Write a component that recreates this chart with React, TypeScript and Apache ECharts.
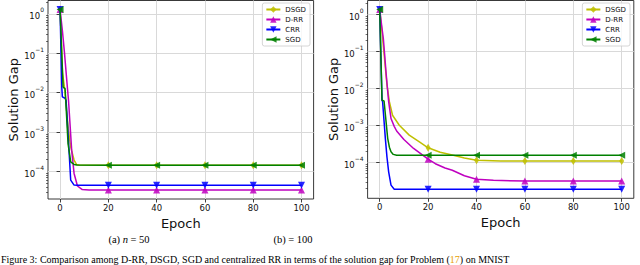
import React, { useEffect, useRef } from 'react';
import * as echarts from 'echarts';

// ---------- data ----------
const SERIES_NAMES = ['DSGD', 'D-RR', 'CRR', 'SGD'];
const X_TICKS = [0, 20, 40, 60, 80, 100];
const X_RANGE = [-5, 105];
const Y_MAJOR_TICKS = [1e-4, 1e-3, 1e-2, 1e-1, 1];
const Y_RANGE_A = [2.0e-5, 2.18];
const Y_RANGE_B = [1.08e-5, 2.39];
const Y_MINOR_A = [3e-5, 4e-5, 5e-5, 6e-5, 7e-5, 8e-5, 9e-5, 2e-4, 3e-4, 4e-4, 5e-4, 6e-4, 7e-4, 8e-4, 9e-4, 2e-3, 3e-3, 4e-3, 5e-3, 6e-3, 7e-3, 8e-3, 9e-3, 2e-2, 3e-2, 4e-2, 5e-2, 6e-2, 7e-2, 8e-2, 9e-2, 0.2, 0.3, 0.4, 0.5, 0.6, 0.7, 0.8, 0.9, 2];
const Y_MINOR_B = [2e-5, 3e-5, 4e-5, 5e-5, 6e-5, 7e-5, 8e-5, 9e-5, 2e-4, 3e-4, 4e-4, 5e-4, 6e-4, 7e-4, 8e-4, 9e-4, 2e-3, 3e-3, 4e-3, 5e-3, 6e-3, 7e-3, 8e-3, 9e-3, 2e-2, 3e-2, 4e-2, 5e-2, 6e-2, 7e-2, 8e-2, 9e-2, 0.2, 0.3, 0.4, 0.5, 0.6, 0.7, 0.8, 0.9, 2];

// (a) n = 50 : [epoch, solution gap]
const DSGD_A = [[0, 1.29], [1, 3.2e-2], [2, 1.12e-2], [2.5, 5.0e-3], [3, 2.2e-3], [3.5, 1.1e-3], [4, 6.3e-4], [4.4, 4.2e-4], [5.8, 1.95e-4], [6.8, 1.51e-4], [8, 1.45e-4], [20, 1.44e-4], [40, 1.44e-4], [60, 1.44e-4], [80, 1.44e-4], [100, 1.44e-4]];
const DRR_A = [[0, 1.29], [1, 0.355], [1.8, 0.107], [3, 1.41e-2], [3.5, 6.3e-3], [4.8, 3.47e-4], [5.8, 8.9e-5], [7.2, 4.27e-5], [9.2, 3.47e-5], [12, 3.4e-5], [20, 3.4e-5], [40, 3.4e-5], [60, 3.4e-5], [80, 3.4e-5], [100, 3.4e-5]];
const CRR_A = [[0, 1.29], [0.7, 1.38e-2], [0.95, 7.8e-3], [2.07, 7.2e-3], [2.5, 6.3e-3], [3.7, 3.47e-4], [4.4, 6.0e-5], [5.8, 4.5e-5], [7, 4.47e-5], [20, 4.47e-5], [40, 4.47e-5], [60, 4.47e-5], [80, 4.47e-5], [100, 4.47e-5]];
const SGD_A = [[0, 1.29], [1.25, 1.38e-2], [2.07, 1.26e-2], [2.35, 6.3e-3], [3.3, 5.1e-4], [4.4, 1.74e-4], [5.8, 1.51e-4], [7, 1.45e-4], [20, 1.44e-4], [40, 1.44e-4], [60, 1.44e-4], [80, 1.44e-4], [100, 1.44e-4]];

// (b) = 100
const DSGD_B = [[0, 1.365], [1, 0.32], [2, 6.3e-2], [3, 1.26e-2], [4, 4.4e-3], [5.3, 1.9e-3], [8.1, 1.02e-3], [12.2, 5.5e-4], [16.4, 3.6e-4], [20, 2.5e-4], [25, 1.9e-4], [30.4, 1.58e-4], [35, 1.32e-4], [40, 1.15e-4], [50, 1.1e-4], [60, 1.1e-4], [80, 1.1e-4], [100, 1.1e-4]];
const DRR_B = [[0, 1.365], [1, 0.4], [1.5, 0.224], [2, 8.9e-2], [2.6, 2.8e-2], [3, 1.41e-2], [3.7, 4.4e-3], [4.67, 1.55e-3], [6, 9.5e-4], [7, 7.1e-4], [10, 4.2e-4], [14, 2.4e-4], [20, 1.23e-4], [23, 9.3e-5], [27, 7.1e-5], [30, 6.2e-5], [35, 4.4e-5], [40, 3.55e-5], [47, 3.3e-5], [60, 3.16e-5], [80, 3.16e-5], [100, 3.16e-5]];
const CRR_B = [[0, 1.365], [0.95, 4.8e-3], [1.2, 4.4e-3], [2.33, 4.5e-4], [3, 1.41e-4], [3.7, 5.6e-5], [4.67, 2.45e-5], [6, 1.9e-5], [20, 1.9e-5], [40, 1.9e-5], [60, 1.9e-5], [80, 1.9e-5], [100, 1.9e-5]];
const SGD_B = [[0, 1.365], [0.95, 4.8e-3], [1.8, 4.6e-3], [3.3, 4.5e-4], [4, 2.6e-4], [4.67, 1.95e-4], [5.6, 1.66e-4], [7, 1.58e-4], [20, 1.58e-4], [40, 1.58e-4], [60, 1.58e-4], [80, 1.58e-4], [100, 1.58e-4]];

const CAPTION_A = '(a) {i|n} = 50';
const CAPTION_B = '(b) = 100';
const FIG_CAPTION = 'Figure 3: Comparison among D-RR, DSGD, SGD and centralized RR in terms of the solution gap for Problem ({o|17}) on MNIST';

// ---------- styles ----------
const COLORS = ['#bfbf00', '#bf00bf', '#0000ff', '#008000'];
const SYMBOLS = ['diamond', 'triangle', 'triangle', 'triangle'];
const SYMBOL_SIZES: any[] = [[5, 8], 7, 7, 7];
const SYMBOL_ROTATES = [0, 0, 180, 90];
const FONT = 'DejaVu Sans';
const INK = '#111';

const yLabelFmt = (v: number) => {
  const e = Math.log10(v);
  const r = Math.round(e);
  if (Math.abs(e - r) > 1e-6) return '';
  const s = r < 0 ? '\u2212' + Math.abs(r) : String(r);
  return '{b|10}{s|' + s + '}';
};

function makeSeries(name: string, idx: number, data: number[][], g: number) {
  const c = COLORS[idx];
  return {
    type: 'line',
    name,
    xAxisIndex: g,
    yAxisIndex: g * 2,
    data: data.map(([x, y]) => (X_TICKS.includes(x) ? [x, y] : { value: [x, y], symbol: 'none' })),
    showSymbol: true,
    symbol: SYMBOLS[idx],
    symbolSize: SYMBOL_SIZES[idx],
    symbolRotate: SYMBOL_ROTATES[idx],
    lineStyle: { color: c, width: 1.5 },
    itemStyle: { color: c, opacity: 0.85 },
    emphasis: { disabled: true },
    z: 2 + idx,
  };
}

function makeAxes(g: number, yRange: number[], minor: number[]) {
  const x = {
    type: 'value',
    gridIndex: g,
    min: X_RANGE[0],
    max: X_RANGE[1],
    axisLine: { show: false },
    axisTick: { show: true, length: 3.5, customValues: X_TICKS, lineStyle: { color: INK, width: 0.8 } },
    axisLabel: {
      customValues: X_TICKS,
      formatter: (v: number) => (X_TICKS.includes(v) ? String(v) : ''),
      fontSize: 8.5,
      fontFamily: FONT,
      color: INK,
      margin: 4,
    },
    splitLine: { show: true, lineStyle: { color: '#d9d9d9', width: 1 } },
    name: 'Epoch',
    nameLocation: 'middle',
    nameGap: 14,
    nameTextStyle: { fontSize: 13, fontFamily: FONT, color: INK },
  };
  const yMain = {
    type: 'log',
    gridIndex: g,
    min: yRange[0],
    max: yRange[1],
    position: 'left',
    axisLine: { show: false },
    axisTick: { show: true, length: 3.5, customValues: Y_MAJOR_TICKS, lineStyle: { color: INK, width: 0.8 } },
    axisLabel: {
      customValues: Y_MAJOR_TICKS,
      formatter: yLabelFmt,
      margin: 4,
      rich: {
        b: { fontSize: 8.5, fontFamily: FONT, color: INK, lineHeight: 14, verticalAlign: 'bottom' },
        s: { fontSize: 6, fontFamily: FONT, color: INK, lineHeight: 6, verticalAlign: 'top' },
      },
    },
    splitLine: { show: true, lineStyle: { color: '#d9d9d9', width: 1 } },
    name: 'Solution Gap',
    nameLocation: 'middle',
    nameGap: 28,
    nameTextStyle: { fontSize: 13, fontFamily: FONT, color: INK },
  };
  const yMinor = {
    type: 'log',
    gridIndex: g,
    min: yRange[0],
    max: yRange[1],
    position: 'left',
    offset: 0,
    axisLine: { show: false },
    axisLabel: { show: false },
    splitLine: { show: false },
    axisTick: { show: true, length: 2, customValues: minor, lineStyle: { color: INK, width: 0.6 } },
  };
  return { x, ys: [yMain, yMinor] };
}

function makeLegend(right: number) {
  return {
    orient: 'vertical',
    right,
    top: 3,
    padding: [3, 4, 3, 3],
    itemGap: 3,
    itemWidth: 14,
    itemHeight: 8,
    backgroundColor: 'rgba(255,255,255,0.8)',
    borderColor: '#cccccc',
    borderWidth: 0.8,
    borderRadius: 2,
    textStyle: { fontSize: 7, fontFamily: FONT, color: INK },
    data: SERIES_NAMES,
    selectedMode: false,
  };
}

export default function App() {
  const ref = useRef<HTMLDivElement>(null);
  useEffect(() => {
    if (!ref.current) return;
    const chart = echarts.init(ref.current, undefined, { renderer: 'svg' });
    const a = makeAxes(0, Y_RANGE_A, Y_MINOR_A);
    const b = makeAxes(1, Y_RANGE_B, Y_MINOR_B);
    const dataA = [DSGD_A, DRR_A, CRR_A, SGD_A];
    const dataB = [DSGD_B, DRR_B, CRR_B, SGD_B];
    const option: any = {
      animation: false,
      backgroundColor: '#ffffff',
      textStyle: { fontFamily: FONT },
      grid: [
        { left: 48, top: 0.5, width: 265.6, height: 198.5, show: true, borderColor: '#222', borderWidth: 0.9, backgroundColor: 'transparent' },
        { left: 367.6, top: 0.5, width: 266.2, height: 197.8, show: true, borderColor: '#222', borderWidth: 0.9, backgroundColor: 'transparent' },
      ],
      xAxis: [a.x, b.x],
      yAxis: [...a.ys, ...b.ys],
      legend: [makeLegend(330), makeLegend(10)],
      series: [
        ...SERIES_NAMES.map((n, i) => makeSeries(n, i, dataA[i], 0)),
        ...SERIES_NAMES.map((n, i) => makeSeries(n, i, dataB[i], 1)),
      ],
      graphic: [
        {
          type: 'text',
          x: 129,
          y: 239.5,
          style: {
            text: CAPTION_A,
            fontFamily: 'Liberation Serif',
            fontSize: 10.5,
            fill: '#000',
            align: 'center',
            verticalAlign: 'middle',
            rich: { i: { fontStyle: 'italic', fontFamily: 'Liberation Serif', fontSize: 10.5 } },
          },
        },
        {
          type: 'text',
          x: 293,
          y: 239.5,
          style: {
            text: CAPTION_B,
            fontFamily: 'Liberation Serif',
            fontSize: 10.5,
            fill: '#000',
            align: 'center',
            verticalAlign: 'middle',
          },
        },
        {
          type: 'text',
          x: 1,
          y: 264.5,
          style: {
            text: FIG_CAPTION,
            fontFamily: 'Liberation Serif',
            fontSize: 10,
            lineHeight: 10,
            fill: '#000',
            align: 'left',
            verticalAlign: 'bottom',
            rich: { o: { fill: '#e8a000', fontFamily: 'Liberation Serif', fontSize: 10, lineHeight: 10 } },
          },
        },
      ],
    };
    chart.setOption(option);
    return () => chart.dispose();
  }, []);
  return (
    <div
      ref={ref}
      style={{ position: 'fixed', left: 0, top: 0, width: 640, height: 265, background: '#fff' }}
    />
  );
}
